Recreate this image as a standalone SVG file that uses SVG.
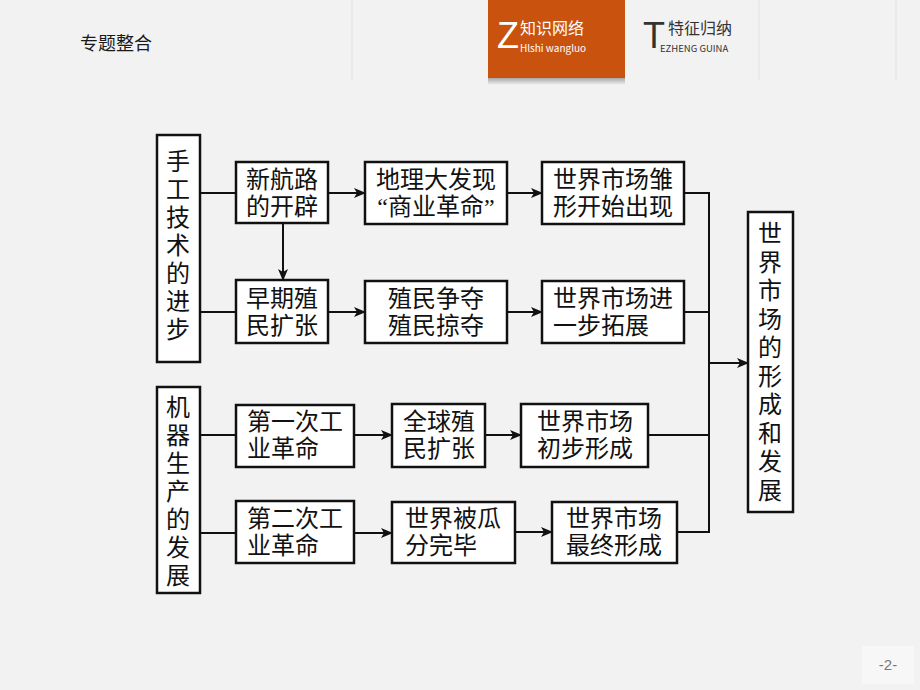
<svg xmlns="http://www.w3.org/2000/svg" width="920" height="690" viewBox="0 0 920 690">
<defs>
<marker id="ah" markerUnits="userSpaceOnUse" markerWidth="12" markerHeight="10" refX="11" refY="5" orient="auto">
<path d="M0,0 L12,5 L0,10 L3,5 Z" fill="#111"/>
</marker>
<linearGradient id="sh" x1="0" y1="0" x2="0" y2="1">
<stop offset="0" stop-color="#888" stop-opacity="0.7"/>
<stop offset="1" stop-color="#888" stop-opacity="0"/>
</linearGradient>
</defs>
<style>
.box{fill:#fff;stroke:#111;stroke-width:2.5}
.t{font-family:"Liberation Serif","Noto Sans CJK SC",serif;font-size:24px;fill:#111;dominant-baseline:central}
.c{text-anchor:middle}
.ln{fill:none;stroke:#111;stroke-width:2}
.hd{font-family:"Noto Sans CJK SC","Liberation Sans",sans-serif}
</style>
<rect x="0" y="0" width="920" height="690" fill="#f2f2f3"/>
<g id="header">
<line x1="352" y1="0" x2="352" y2="80" stroke="#e2e2e4" stroke-width="1"/>
<line x1="759" y1="0" x2="759" y2="80" stroke="#e2e2e4" stroke-width="1"/>
<line x1="896" y1="0" x2="896" y2="80" stroke="#e2e2e4" stroke-width="1"/>
<text class="hd" x="80" y="50" font-size="18" fill="#1a1a1a">专题整合</text>
<rect x="488" y="78" width="137" height="7" fill="url(#sh)"/>
<rect x="488" y="0" width="137" height="78" fill="#c9520e"/>
<text x="497" y="48" font-family="Liberation Sans Narrow,Liberation Sans,sans-serif" font-size="36" fill="#fff">Z</text>
<text class="hd" x="520" y="34" font-size="16" fill="#fff">知识网络</text>
<text class="hd" x="520" y="52" font-size="10" fill="#fff">Hlshi wangluo</text>
<text x="643" y="48" font-family="Liberation Sans Narrow,Liberation Sans,sans-serif" font-size="36" fill="#333">T</text>
<text class="hd" x="668" y="34" font-size="16" fill="#333">特征归纳</text>
<text class="hd" x="660" y="52" font-size="9.5" fill="#333">EZHENG GUINA</text>
</g>
<g id="connectors">
<line class="ln" x1="200" y1="193" x2="236" y2="193"/>
<line class="ln" x1="200" y1="312" x2="236" y2="312"/>
<line class="ln" x1="200" y1="435" x2="236" y2="435"/>
<line class="ln" x1="200" y1="533" x2="236" y2="533"/>
<line class="ln" x1="328" y1="193" x2="365" y2="193" marker-end="url(#ah)"/>
<line class="ln" x1="283" y1="223" x2="283" y2="280" marker-end="url(#ah)"/>
<line class="ln" x1="507" y1="193" x2="542" y2="193" marker-end="url(#ah)"/>
<line class="ln" x1="328" y1="312" x2="365" y2="312" marker-end="url(#ah)"/>
<line class="ln" x1="507" y1="312" x2="542" y2="312" marker-end="url(#ah)"/>
<line class="ln" x1="354" y1="435" x2="392" y2="435" marker-end="url(#ah)"/>
<line class="ln" x1="485" y1="435" x2="521" y2="435" marker-end="url(#ah)"/>
<line class="ln" x1="354" y1="533" x2="392" y2="533" marker-end="url(#ah)"/>
<line class="ln" x1="515" y1="532" x2="552" y2="532" marker-end="url(#ah)"/>
<polyline class="ln" points="684,193 709,193 709,532 677,532"/>
<line class="ln" x1="684" y1="312" x2="709" y2="312"/>
<line class="ln" x1="648" y1="435" x2="709" y2="435"/>
<line class="ln" x1="709" y1="363" x2="748" y2="363" marker-end="url(#ah)"/>
</g>
<g id="n-handcraft">
<rect class="box" x="157" y="135" width="43" height="227"/>
<text class="t c" x="178" y="162">手</text>
<text class="t c" x="178" y="190">工</text>
<text class="t c" x="178" y="218">技</text>
<text class="t c" x="178" y="246">术</text>
<text class="t c" x="178" y="274">的</text>
<text class="t c" x="178" y="302">进</text>
<text class="t c" x="178" y="330">步</text>
</g>
<g id="n-machine">
<rect class="box" x="157" y="387" width="43" height="206"/>
<text class="t c" x="178" y="408">机</text>
<text class="t c" x="178" y="436">器</text>
<text class="t c" x="178" y="464">生</text>
<text class="t c" x="178" y="492">产</text>
<text class="t c" x="178" y="520">的</text>
<text class="t c" x="178" y="548">发</text>
<text class="t c" x="178" y="576">展</text>
</g>
<g id="n-route">
<rect class="box" x="236" y="162" width="92" height="61"/>
<text class="t c" x="282" y="180">新航路</text>
<text class="t c" x="282" y="207">的开辟</text>
</g>
<g id="n-discovery">
<rect class="box" x="365" y="162" width="142" height="62"/>
<text class="t c" x="436" y="180">地理大发现</text>
<text class="t c" x="436" y="207">“商业革命”</text>
</g>
<g id="n-embryo">
<rect class="box" x="542" y="162" width="142" height="62"/>
<text class="t" x="553" y="180">世界市场雏</text>
<text class="t" x="553" y="207">形开始出现</text>
</g>
<g id="n-early">
<rect class="box" x="236" y="280" width="92" height="63"/>
<text class="t c" x="282" y="299">早期殖</text>
<text class="t c" x="282" y="326">民扩张</text>
</g>
<g id="n-struggle">
<rect class="box" x="365" y="281" width="142" height="62"/>
<text class="t c" x="436" y="299">殖民争夺</text>
<text class="t c" x="436" y="326">殖民掠夺</text>
</g>
<g id="n-expand">
<rect class="box" x="542" y="281" width="142" height="62"/>
<text class="t" x="553" y="299">世界市场进</text>
<text class="t" x="553" y="326">一步拓展</text>
</g>
<g id="n-ir1">
<rect class="box" x="236" y="405" width="118" height="62"/>
<text class="t" x="247" y="422">第一次工</text>
<text class="t" x="247" y="449">业革命</text>
</g>
<g id="n-global">
<rect class="box" x="392" y="404" width="93" height="63"/>
<text class="t" x="403" y="422">全球殖</text>
<text class="t" x="403" y="449">民扩张</text>
</g>
<g id="n-initial">
<rect class="box" x="521" y="404" width="127" height="63"/>
<text class="t c" x="585" y="422">世界市场</text>
<text class="t c" x="585" y="449">初步形成</text>
</g>
<g id="n-ir2">
<rect class="box" x="236" y="501" width="118" height="62"/>
<text class="t" x="247" y="519">第二次工</text>
<text class="t" x="247" y="546">业革命</text>
</g>
<g id="n-divided">
<rect class="box" x="392" y="502" width="123" height="61"/>
<text class="t" x="405" y="519">世界被瓜</text>
<text class="t" x="405" y="546">分完毕</text>
</g>
<g id="n-final">
<rect class="box" x="552" y="502" width="125" height="61"/>
<text class="t c" x="614" y="519">世界市场</text>
<text class="t c" x="614" y="546">最终形成</text>
</g>
<g id="n-world">
<rect class="box" x="748" y="212" width="45" height="300"/>
<text class="t c" x="770" y="234">世</text>
<text class="t c" x="770" y="262.5">界</text>
<text class="t c" x="770" y="291">市</text>
<text class="t c" x="770" y="319.5">场</text>
<text class="t c" x="770" y="348">的</text>
<text class="t c" x="770" y="376.5">形</text>
<text class="t c" x="770" y="405">成</text>
<text class="t c" x="770" y="433.5">和</text>
<text class="t c" x="770" y="462">发</text>
<text class="t c" x="770" y="490.5">展</text>
</g>
<g id="page">
<rect x="862" y="646" width="52" height="38" fill="#f7f7f8"/>
<text x="888" y="670" font-family="Liberation Sans,sans-serif" font-size="15" fill="#777" text-anchor="middle">-2-</text>
</g>
</svg>
